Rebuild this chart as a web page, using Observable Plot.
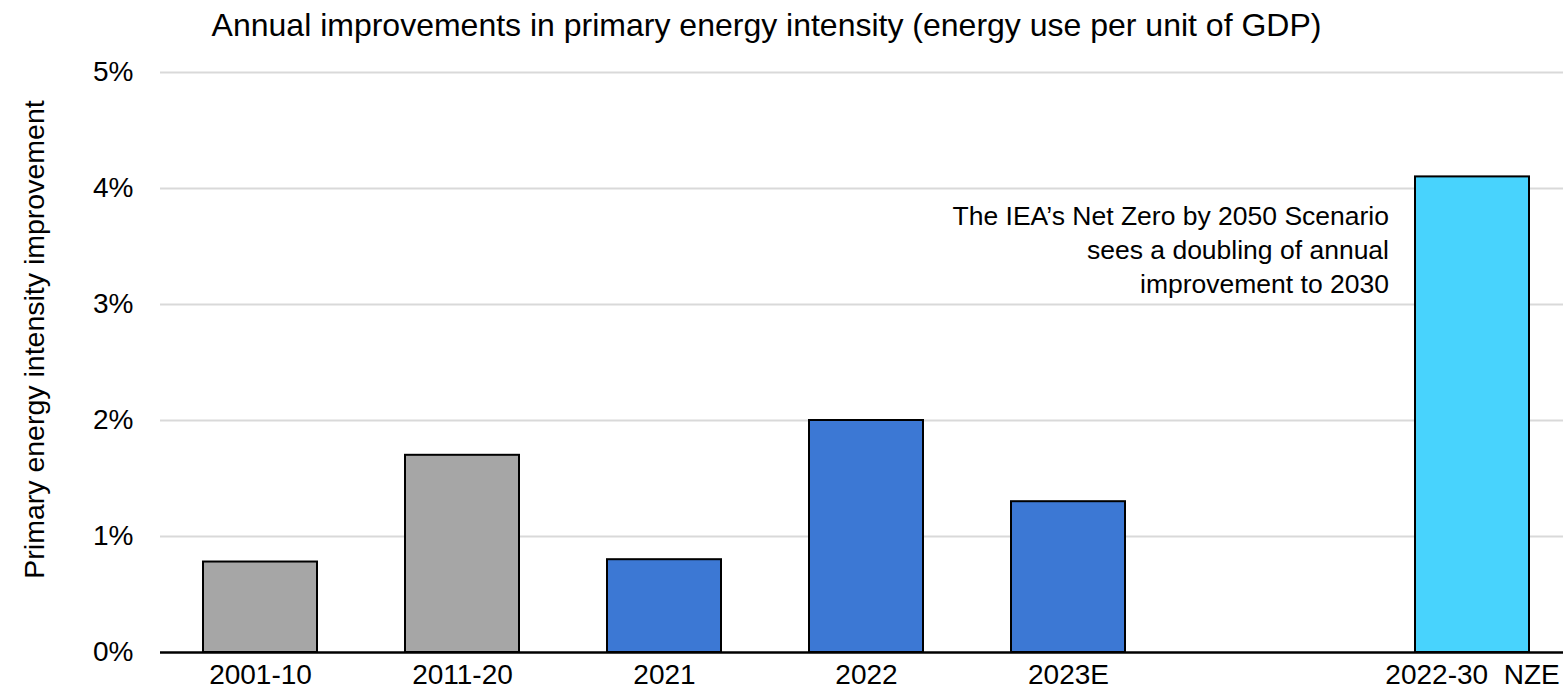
<!DOCTYPE html>
<html>
<head>
<meta charset="utf-8">
<script src="https://cdn.jsdelivr.net/npm/d3@7"></script>
<script src="https://cdn.jsdelivr.net/npm/@observablehq/plot@0.6"></script>
<style>
  html, body { margin: 0; padding: 0; background: #fff; overflow: hidden; }
  #chart svg text { white-space: pre; }
</style>
</head>
<body>
<div id="chart"></div>
<script>
// Annual primary energy intensity improvement, % per year
const periods = ["2001-10", "2011-20", "2021", "2022", "2023E", "2022-30  NZE"];
const improvement = [0.78, 1.7, 0.8, 2.0, 1.3, 4.1];
const barColors = ["#a6a6a6", "#a6a6a6", "#3c78d4", "#3c78d4", "#3c78d4", "#48d3fd"];
// category slots along the x axis; the blank slot separates history from the scenario
const slots = ["2001-10", "2011-20", "2021", "2022", "2023E", "", "2022-30  NZE"];
const yTicks = [0, 1, 2, 3, 4, 5];

const chartTitle = "Annual improvements in primary energy intensity (energy use per unit of GDP)";
const yLabel = "Primary energy intensity improvement";
const note = "The IEA\u2019s Net Zero by 2050 Scenario\nsees a doubling of annual\nimprovement to 2030";

const rows = periods.map((p, i) => ({period: p, value: improvement[i], color: barColors[i]}));

const W = 1563, H = 690, ML = 160, MT = 72, MB = 38;
const frameCenterX = (ML + W) / 2;
const frameCenterY = (MT + H - MB) / 2;

const chart = Plot.plot({
  width: W,
  height: H,
  marginLeft: ML,
  marginRight: 0,
  marginTop: MT,
  marginBottom: MB,
  style: {
    fontFamily: '"Liberation Sans", Arial, Helvetica, sans-serif',
    fontSize: "28px",
    color: "#000",
    background: "#fff",
    overflow: "visible"
  },
  x: {
    type: "band",
    domain: slots,
    range: [159.5, 1573.5],
    paddingInner: 0.4356,
    paddingOuter: 0.2178,
    tickSize: 0,
    tickPadding: 12,
    label: null
  },
  y: {
    domain: [0, 5],
    ticks: yTicks,
    tickFormat: d => d + "%",
    tickSize: 0,
    tickPadding: 27,
    label: null
  },
  color: {type: "identity"},
  marks: [
    Plot.ruleY(yTicks.filter(t => t > 0), {stroke: "#d9d9d9", strokeWidth: 2}),
    Plot.barY(rows, {x: "period", y: "value", fill: "color", stroke: "#000", strokeWidth: 2}),
    Plot.ruleY([0], {stroke: "#000", strokeWidth: 2.5}),
    Plot.text([chartTitle], {
      text: d => d, frameAnchor: "top", lineAnchor: "bottom",
      dx: 766 - frameCenterX, dy: 35 - MT, fontSize: 32, fill: "#000"
    }),
    Plot.text([yLabel], {
      text: d => d, frameAnchor: "left", textAnchor: "middle", rotate: -90, lineAnchor: "middle",
      dx: 34 - ML, dy: 339 - frameCenterY, fontSize: 28.5, fill: "#000"
    }),
    Plot.text(rows.slice(5), {
      x: "period", y: "value", text: () => note,
      textAnchor: "end", lineAnchor: "top", lineHeight: 34 / 26.5,
      dx: -83.5, dy: 24, fontSize: 26.5, fill: "#000"
    })
  ]
});

document.getElementById("chart").appendChild(chart);
</script>
</body>
</html>
